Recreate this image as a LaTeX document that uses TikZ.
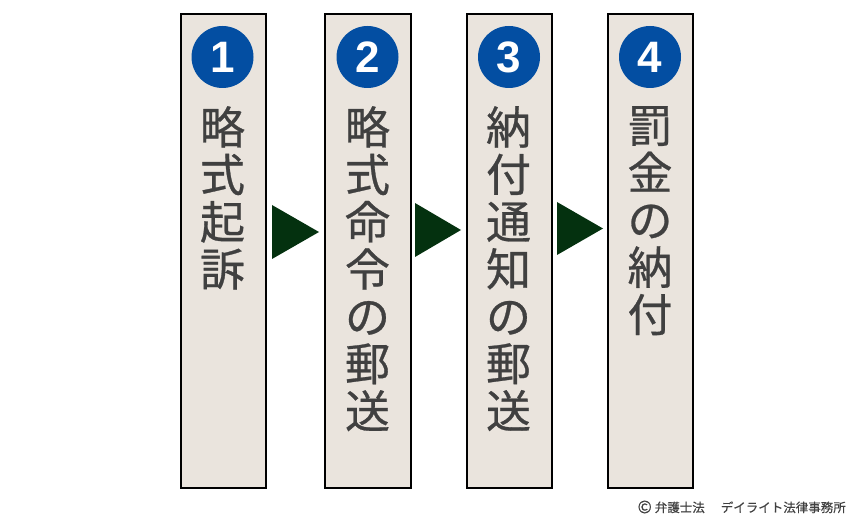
\documentclass[tikz,border=0pt]{standalone}
\usepackage{fontspec}
\newfontfamily\cjk[FakeBold=0.6]{Noto Sans CJK JP}
\newfontfamily\cjksmall[FakeBold=0.3]{Noto Sans CJK JP}
\setmainfont{Liberation Sans}
\definecolor{boxfill}{HTML}{EAE4DD}
\definecolor{numblue}{HTML}{034EA2}
\definecolor{arrowgreen}{HTML}{04310F}
\definecolor{txt}{HTML}{404040}
\tikzset{
  stepbox/.style={draw=black,line width=2pt,fill=boxfill,minimum height=473.6pt,inner sep=0pt,anchor=north west},
  numdot/.style={circle,fill=numblue,minimum size=62pt,inner sep=0pt,text=white,font=\fontsize{44}{44}\selectfont\bfseries},
  vtext/.style={anchor=north,align=center,inner sep=0pt,text=txt,font=\cjk\fontsize{45}{47.3}\selectfont},
  tri/.style={fill=arrowgreen}
}
\begin{document}
\begin{tikzpicture}[x=1pt,y=-1pt]
\useasboundingbox (0,0) rectangle (850,518);
\node[stepbox,minimum width=84.6pt] (b1) at (180,13) {};
\node[stepbox,minimum width=85.6pt] (b2) at (324,13) {};
\node[stepbox,minimum width=84.6pt] (b3) at (466,13) {};
\node[stepbox,minimum width=84.6pt] (b4) at (607,13) {};
\node[numdot] (n1) at (222.5,57) {1};
\node[numdot] (n2) at (367.5,57) {2};
\node[numdot] (n3) at (509,57) {3};
\node[numdot] (n4) at (650,57) {4};
\node[vtext] (t1) at (222.5,106) {略\\式\\起\\訴};
\node[vtext] (t2) at (367.5,106) {略\\式\\命\\令\\の\\郵\\送};
\node[vtext] (t3) at (508.5,106) {納\\付\\通\\知\\の\\郵\\送};
\node[vtext] (t4) at (650,106) {罰\\金\\の\\納\\付};
\fill[tri] (272,205) -- (319,232) -- (272,259) -- cycle;
\fill[tri] (415,203) -- (461,230) -- (415,257) -- cycle;
\fill[tri] (557,202) -- (603,228.5) -- (557,255) -- cycle;
\node[anchor=east,inner sep=0pt,text=txt,font=\cjksmall\fontsize{12.5}{14}\selectfont] (c) at (846,507) {\raisebox{-1pt}{\fontsize{17}{14}\selectfont ©}\hspace{3pt}弁護士法\hspace{16pt}デイライト法律事務所};
\end{tikzpicture}
\end{document}
